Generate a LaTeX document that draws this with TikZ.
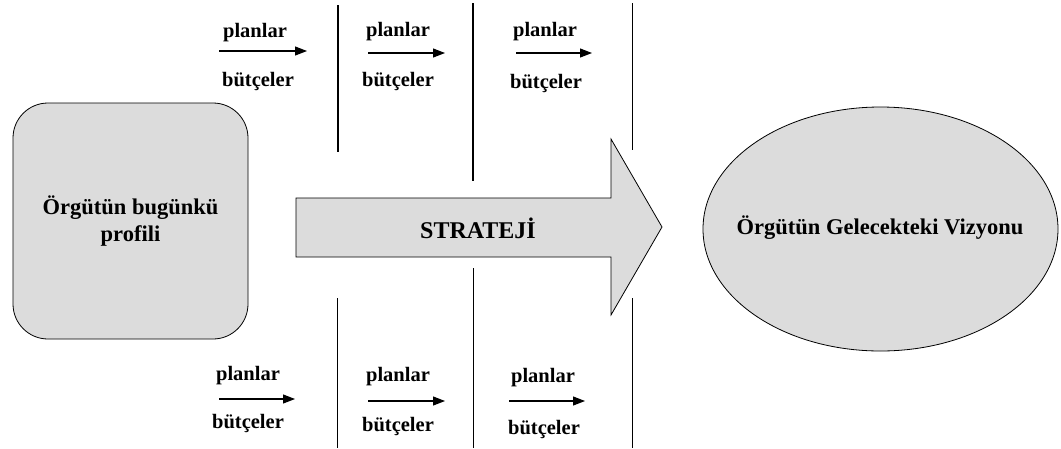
\documentclass[tikz,border=0pt]{standalone}
\usepackage{fontspec}
\setmainfont{Liberation Serif}
\usetikzlibrary{shapes.geometric,arrows.meta}
\definecolor{boxgray}{HTML}{DCDCDC}
\begin{document}
\begin{tikzpicture}[x=1pt,y=-1pt,
  lbl/.style={font=\fontsize{20.5}{22}\selectfont\bfseries, inner sep=0pt},
  big/.style={font=\fontsize{22.5}{27}\selectfont\bfseries, align=center},
  flow/.style={-{Triangle[length=12pt,width=9pt]}, line width=1.1pt},
  heavyrule/.style={line width=2.4pt},
  thinrule/.style={line width=0.9pt}]
\useasboundingbox (0,0) rectangle (1061,448);

% present profile
\node[big, draw, line width=0.8pt, fill=boxgray, rounded corners=35pt,
      minimum width=235pt, minimum height=236pt, inner sep=0pt]
      (profil) at (130.5,221) {Örgütün bugünkü\\profili};

% strategy arrow
\path[draw, line width=0.8pt, fill=boxgray]
  (296,198) -- (611,198) -- (611,139) -- (662,227) -- (611,315)
  -- (611,257) -- (296,257) -- cycle;
\node[font=\fontsize{24}{28}\selectfont\bfseries] (strateji) at (478,228) {STRATEJİ};

% future vision
\node[draw, line width=0.8pt, fill=boxgray, ellipse,
      minimum width=355pt, minimum height=244pt, inner sep=0pt]
      (vizyon) at (880.5,229) {};
\node[big] (vizyontxt) at (880,228) {Örgütün Gelecekteki Vizyonu};

% stage separators
\coordinate (t1a) at (338,5);   \coordinate (t1b) at (338,152);
\coordinate (t2a) at (473,3);   \coordinate (t2b) at (473,181);
\coordinate (t3a) at (632,3);   \coordinate (t3b) at (632,150);
\coordinate (b1a) at (337,298); \coordinate (b1b) at (337,448);
\coordinate (b2a) at (473,268); \coordinate (b2b) at (473,448);
\coordinate (b3a) at (632,298); \coordinate (b3b) at (632,448);
\draw[heavyrule] (t1a) -- (t1b);
\draw[heavyrule] (t2a) -- (t2b);
\draw[thinrule] (t3a) -- (t3b);
\draw[thinrule] (b1a) -- (b1b);
\draw[thinrule] (b2a) -- (b2b);
\draw[thinrule] (b3a) -- (b3b);

% plans and budgets, upper row
\node[lbl] (p1) at (255,33) {planlar};
\node[lbl] (u1) at (258,81) {bütçeler};
\coordinate (a1s) at (219,51); \coordinate (a1e) at (307,51);
\draw[flow] (a1s) -- (a1e);

\node[lbl] (p2) at (398,32) {planlar};
\node[lbl] (u2) at (398,81) {bütçeler};
\coordinate (a2s) at (368,53); \coordinate (a2e) at (445,53);
\draw[flow] (a2s) -- (a2e);

\node[lbl] (p3) at (545,32) {planlar};
\node[lbl] (u3) at (546,83) {bütçeler};
\coordinate (a3s) at (516,53); \coordinate (a3e) at (592,53);
\draw[flow] (a3s) -- (a3e);

% plans and budgets, lower row
\node[lbl] (p4) at (248,376) {planlar};
\node[lbl] (u4) at (248,423) {bütçeler};
\coordinate (a4s) at (219,399); \coordinate (a4e) at (295,399);
\draw[flow] (a4s) -- (a4e);

\node[lbl] (p5) at (398,377) {planlar};
\node[lbl] (u5) at (398,426) {bütçeler};
\coordinate (a5s) at (368,401); \coordinate (a5e) at (445,401);
\draw[flow] (a5s) -- (a5e);

\node[lbl] (p6) at (543,378) {planlar};
\node[lbl] (u6) at (544,429) {bütçeler};
\coordinate (a6s) at (509,401); \coordinate (a6e) at (585,401);
\draw[flow] (a6s) -- (a6e);
\end{tikzpicture}
\end{document}
